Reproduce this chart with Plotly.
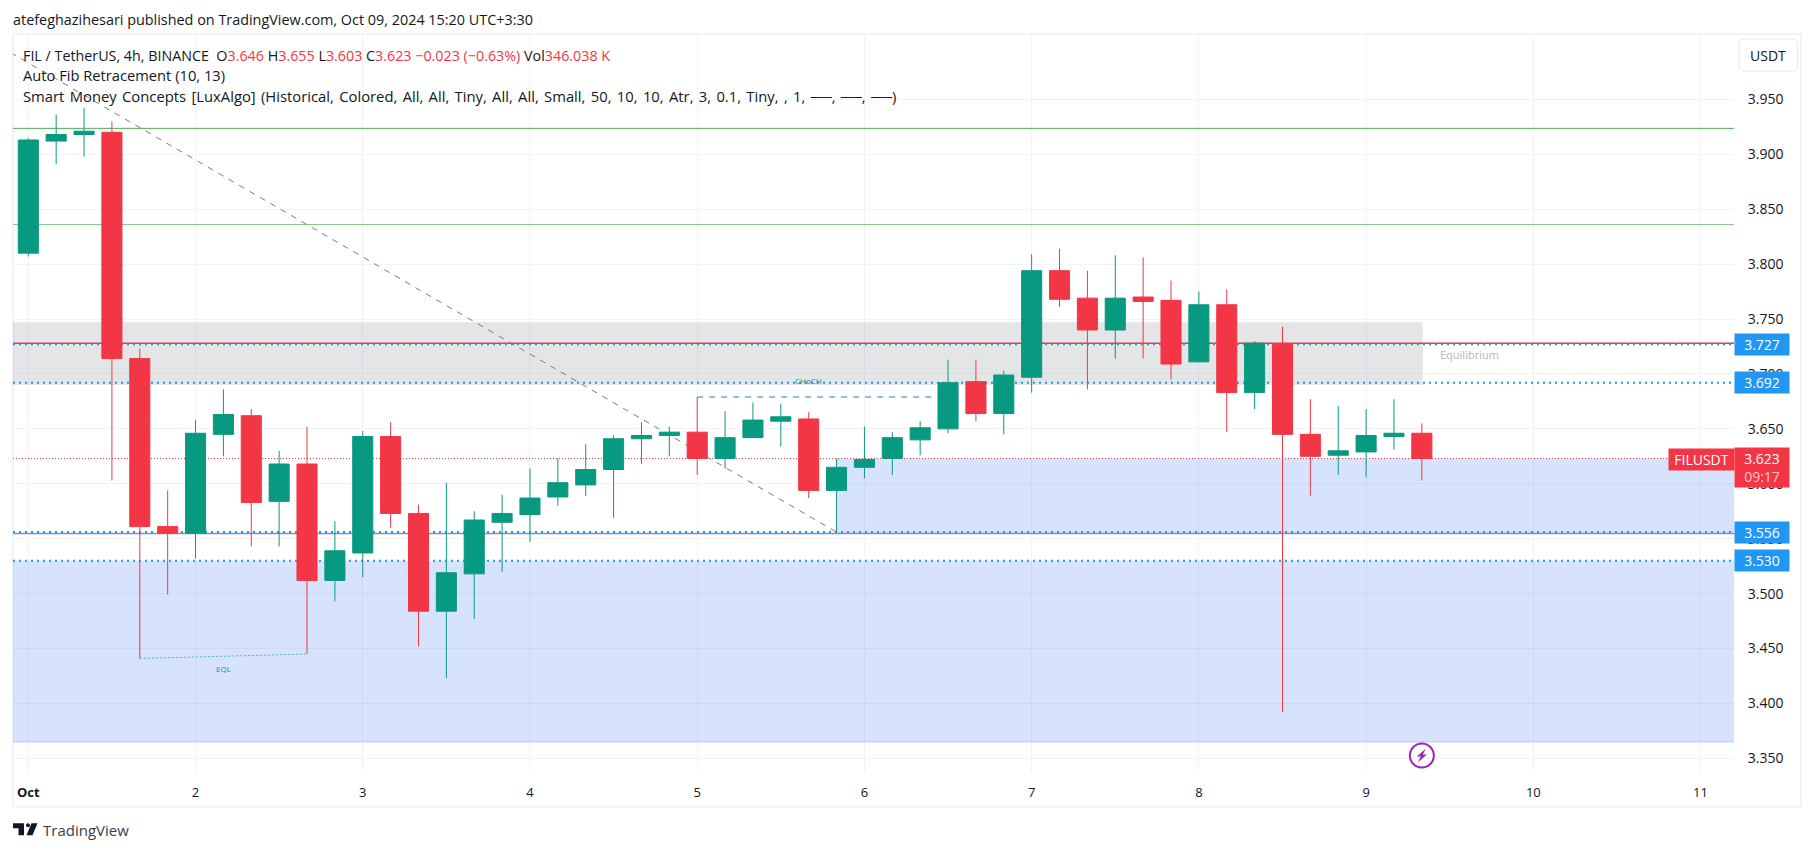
import pandas as pd
import plotly.graph_objects as go

# ---------- data ----------
opens = [3.810,3.912,3.918,3.920,3.714,3.561,3.555,3.645,3.662,3.584,3.618,3.512,3.537,3.643,3.573,3.484,3.518,3.565,
         3.572,3.588,3.599,3.613,3.641,3.644,3.647,3.623,3.642,3.657,3.659,3.594,3.615,3.623,3.640,3.650,3.693,3.664,
         3.697,3.794,3.769,3.740,3.770,3.767,3.711,3.763,3.683,3.727,3.645,3.626,3.629,3.643,3.646]
highs = [3.915,3.936,3.942,3.930,3.723,3.594,3.658,3.686,3.668,3.630,3.652,3.566,3.648,3.656,3.581,3.601,3.575,3.590,
         3.614,3.623,3.636,3.644,3.656,3.652,3.679,3.666,3.674,3.673,3.665,3.623,3.652,3.647,3.657,3.713,3.713,3.703,
         3.809,3.814,3.794,3.808,3.806,3.785,3.775,3.777,3.730,3.743,3.677,3.671,3.668,3.677,3.655]
lows  = [3.807,3.891,3.898,3.603,3.441,3.499,3.532,3.625,3.543,3.543,3.445,3.493,3.515,3.560,3.452,3.423,3.477,3.520,
         3.547,3.580,3.589,3.569,3.618,3.625,3.608,3.614,3.642,3.634,3.587,3.556,3.605,3.608,3.626,3.646,3.657,3.645,
         3.683,3.761,3.686,3.714,3.714,3.695,3.711,3.647,3.668,3.392,3.589,3.608,3.606,3.631,3.603]
closes= [3.913,3.918,3.921,3.714,3.561,3.555,3.646,3.663,3.583,3.618,3.512,3.539,3.643,3.573,3.484,3.519,3.567,3.573,
         3.587,3.601,3.613,3.641,3.644,3.647,3.623,3.642,3.658,3.661,3.594,3.615,3.622,3.642,3.651,3.692,3.664,3.699,
         3.794,3.768,3.740,3.769,3.766,3.709,3.763,3.683,3.728,3.645,3.625,3.630,3.644,3.646,3.623]

day_labels = ["<b>Oct</b>", "2", "3", "4", "5", "6", "7", "8", "9", "10", "11"]
day_dates = ["2024-10-%02d" % d for d in range(1, 12)]
price_ticks = [3.35, 3.40, 3.45, 3.50, 3.55, 3.60, 3.65, 3.70, 3.75, 3.80, 3.85, 3.90, 3.95]

fib_lines = [3.9236, 3.836]
red_level = 3.728
blue_levels = [3.727, 3.692, 3.556, 3.530]
last_price = 3.623
grey_level = 3.5547
eq_zone = (3.690, 3.747)
lower_zone = (3.365, 3.530)
upper_zone = (3.5547, 3.623)
trend_prices = (3.998, 3.556)
trend_bars = (-1, 29)
eql_prices = (3.441, 3.445)
eql_bars = (4, 10)
choch_price = 3.679
choch_bars = (24, 33)

# ---------- layout constants ----------
W, H = 1814, 851
L, R, T, B = 13, 1734, 34, 771.7
START = pd.Timestamp("2024-10-01 00:00")
GREEN, RED, BLUE = "#089981", "#F23645", "#2196F3"
TEXT = "#131722"
GRID = "#F0F3FA"
FONT = "Open Sans"


def t(i):
    return (START + pd.Timedelta(hours=4) * i).strftime("%Y-%m-%d %H:%M:%S")


def px(x):
    return (x - L) / (R - L)


def py(y):
    return (B - y) / (B - T)


times = [t(i) for i in range(len(opens))]
x_range = [t(-0.549), t(61.2)]
y_range = [3.3376, 4.0095]

fig = go.Figure()
fig.add_trace(go.Candlestick(
    x=times, open=opens, high=highs, low=lows, close=closes,
    increasing=dict(line=dict(color=GREEN, width=1), fillcolor=GREEN),
    decreasing=dict(line=dict(color=RED, width=1), fillcolor=RED),
    whiskerwidth=0, showlegend=False,
))
fig.add_trace(go.Scatter(
    x=[times[-1]], y=[3.3526], mode="markers", showlegend=False, hoverinfo="skip",
    marker=dict(symbol="circle-open", size=24, color="#9C27B0", line=dict(width=2, color="#9C27B0")),
))

shapes = []


def hline(y, color, width=1, dash="solid"):
    shapes.append(dict(type="line", xref="x", x0=x_range[0], x1=x_range[1], yref="y", y0=y, y1=y, layer="between",
                       line=dict(color=color, width=width, dash=dash)))


shapes.append(dict(type="rect", xref="x", yref="y", x0=x_range[0], x1=t(50.03), y0=eq_zone[0], y1=eq_zone[1],
                   layer="between", line=dict(width=0), fillcolor="rgba(120,123,134,0.2)"))
shapes.append(dict(type="rect", xref="x", yref="y", x0=x_range[0], x1=x_range[1], y0=lower_zone[0], y1=lower_zone[1],
                   layer="between", line=dict(width=0), fillcolor="rgba(41,108,245,0.19)"))
shapes.append(dict(type="rect", xref="x", yref="y", x0=t(29), x1=x_range[1], y0=upper_zone[0], y1=upper_zone[1],
                   layer="between", line=dict(width=0), fillcolor="rgba(41,108,245,0.19)"))
hline(lower_zone[0], "#B4CBF3")
hline(fib_lines[0], "#4CAF50")
hline(fib_lines[1], "#81C784")
hline(grey_level, "#8A8FA8", 1.5)
hline(red_level, RED, 1.5)
for lv in blue_levels:
    hline(lv, BLUE, 2, "2px,4px")
hline(last_price, RED, 1, "1px,2px")

shapes.append(dict(type="line", xref="x", yref="y", x0=t(trend_bars[0]), x1=t(trend_bars[1]),
                   y0=trend_prices[0], y1=trend_prices[1], layer="between",
                   line=dict(color="#787B86", width=1, dash="6px,6px")))
shapes.append(dict(type="line", xref="x", yref="y", x0=t(eql_bars[0]), x1=t(eql_bars[1]),
                   y0=eql_prices[0], y1=eql_prices[1], layer="between",
                   line=dict(color="#4DB6AC", width=1, dash="2px,2px")))
shapes.append(dict(type="line", xref="x", yref="y", x0=t(choch_bars[0]), x1=t(choch_bars[1]),
                   y0=choch_price, y1=choch_price, layer="between",
                   line=dict(color=GREEN, width=1, dash="6px,6px")))

# frame around the chart
shapes.append(dict(type="rect", xref="paper", yref="paper", x0=px(13), x1=px(1801), y0=py(806.5), y1=py(34),
                   layer="below", line=dict(color="#F0F3FA", width=2), fillcolor="rgba(0,0,0,0)"))


def rpath(x0, y0, x1, y1, r):
    return (f"M{px(x0 + r)},{py(y0)} L{px(x1 - r)},{py(y0)} Q{px(x1)},{py(y0)} {px(x1)},{py(y0 + r)} "
            f"L{px(x1)},{py(y1 - r)} Q{px(x1)},{py(y1)} {px(x1 - r)},{py(y1)} "
            f"L{px(x0 + r)},{py(y1)} Q{px(x0)},{py(y1)} {px(x0)},{py(y1 - r)} "
            f"L{px(x0)},{py(y0 + r)} Q{px(x0)},{py(y0)} {px(x0 + r)},{py(y0)} Z")


# USDT button
shapes.append(dict(type="path", xref="paper", yref="paper", path=rpath(1739, 39, 1797.5, 71, 5), layer="above",
                   line=dict(color="#E6E8EF", width=1), fillcolor="white"))
# lightning bolt of the news marker
shapes.append(dict(type="path", xref="x", yref="y", xsizemode="pixel", ysizemode="pixel",
                   xanchor=times[-1], yanchor=3.3526,
                   path="M4,7 L-5,-1 L-1,-1 L-4,-7 L5,1 L1,1 Z", fillcolor="#9C27B0",
                   line=dict(width=0), layer="above"))


def poly(points):
    return "M" + " L".join(f"{px(a)},{py(b)}" for a, b in points) + " Z"


# TradingView logo
shapes.append(dict(type="path", xref="paper", yref="paper", fillcolor="#131722", line=dict(width=0),
                   path=poly([(13, 823), (24, 823), (24, 835), (18.5, 835), (18.5, 828), (13, 828)])))
shapes.append(dict(type="circle", xref="paper", yref="paper", fillcolor="#131722", line=dict(width=0),
                   x0=px(26), x1=px(30), y0=py(827), y1=py(823)))
shapes.append(dict(type="path", xref="paper", yref="paper", fillcolor="#131722", line=dict(width=0),
                   path=poly([(31.5, 823), (37.5, 823), (32.5, 835), (26.5, 835)])))


annotations = []


def note(text, x, y, size=13, color=TEXT, **kw):
    annotations.append(dict(text=text, xref="paper", yref="paper", x=px(x), y=py(y), showarrow=False,
                            xanchor=kw.pop("xanchor", "left"), yanchor="middle",
                            font=dict(family=FONT, size=size, color=color), **kw))


def s(txt):
    return f'<span style="color:{RED}">{txt}</span>'


nb = "\u00a0"
hair = "\u200a"
note("atefeghazihesari published on TradingView.com, Oct 09, 2024 15:20 UTC+3:30", 11, 20, 14.4)
note(f"FIL / TetherUS, 4h, BINANCE{nb}{nb}O{s('3.646')}{nb}H{s('3.655')}{nb}L{s('3.603')}{nb}C{s('3.623')}"
     f"{nb}{s('−0.023 (−0.63%)')}{nb}Vol{s('346.038' + nb + 'K')}", 21, 55.5, 14.3)
note("Auto Fib Retracement (10, 13)", 21, 75, 14.7)
smc = ("Smart Money Concepts [LuxAlgo] (Historical, Colored, All, All, Tiny, All, All, Small, 50, 10, 10, Atr, 3, 0.1, "
       "Tiny, , 1, ──, ──, ──)")
note(smc.replace(" ", " " + hair), 21, 96, 14.8)
note("USDT", 1768, 55, 14, TEXT, xanchor="center")
note("TradingView", 41, 829.5, 15, "#3A3E4A")


def data_note(text, i, y, size, color):
    annotations.append(dict(text=text, xref="x", yref="y", x=t(i), y=y, showarrow=False,
                            font=dict(family=FONT, size=size, color=color), xanchor="center", yanchor="middle"))


data_note("EQL", 7, 3.432, 8, GREEN)
data_note("CHoCH", 28, 3.694, 8, GREEN)
data_note("Equilibrium", 51.7, 3.718, 11, "#B2B5BE")


def price_tag(text, y, color=BLUE, height=21, yshift=0, x=1735 + 27, width=54):
    annotations.append(dict(text=text, xref="paper", yref="y", x=px(x), y=y, showarrow=False, bgcolor=color,
                            width=width, height=height, borderpad=0, align="center", valign="middle",
                            xanchor="center", yanchor="middle", yshift=yshift,
                            font=dict(family=FONT, size=14, color="white")))


for lv in blue_levels:
    price_tag(f"{lv:.3f}", lv)
price_tag('3.623<br><span style="color:#FBC6CB">09:17</span>', last_price, RED, 39, -9)
price_tag("FILUSDT", last_price, RED, 21, -0.5, x=1701.5, width=65)

fig.update_layout(
    width=W, height=H, autosize=False,
    margin=dict(l=L, r=W - R, t=T, b=H - B, pad=0),
    paper_bgcolor="white", plot_bgcolor="white",
    showlegend=False, shapes=shapes, annotations=annotations,
    boxgap=0.1, boxgroupgap=0.2,
    font=dict(family=FONT, color=TEXT, size=13),
    xaxis=dict(range=x_range, type="date", rangeslider=dict(visible=False), tickmode="array",
               tickvals=day_dates, ticktext=day_labels, showgrid=True, gridcolor=GRID, gridwidth=1,
               zeroline=False, showline=False, ticks="outside", ticklen=8, tickcolor="rgba(0,0,0,0)",
               tickfont=dict(family=FONT, size=13, color=TEXT)),
    yaxis=dict(range=y_range, side="right", tickmode="array", tickvals=price_ticks, tickformat=".3f",
               showgrid=True, gridcolor=GRID, gridwidth=1, zeroline=False, showline=False,
               ticks="outside", ticklen=10, tickcolor="rgba(0,0,0,0)",
               tickfont=dict(family=FONT, size=14, color=TEXT)),
)

fig.write_html("out.html", config=dict(displayModeBar=False),
               post_script="document.body.style.margin='0';")
